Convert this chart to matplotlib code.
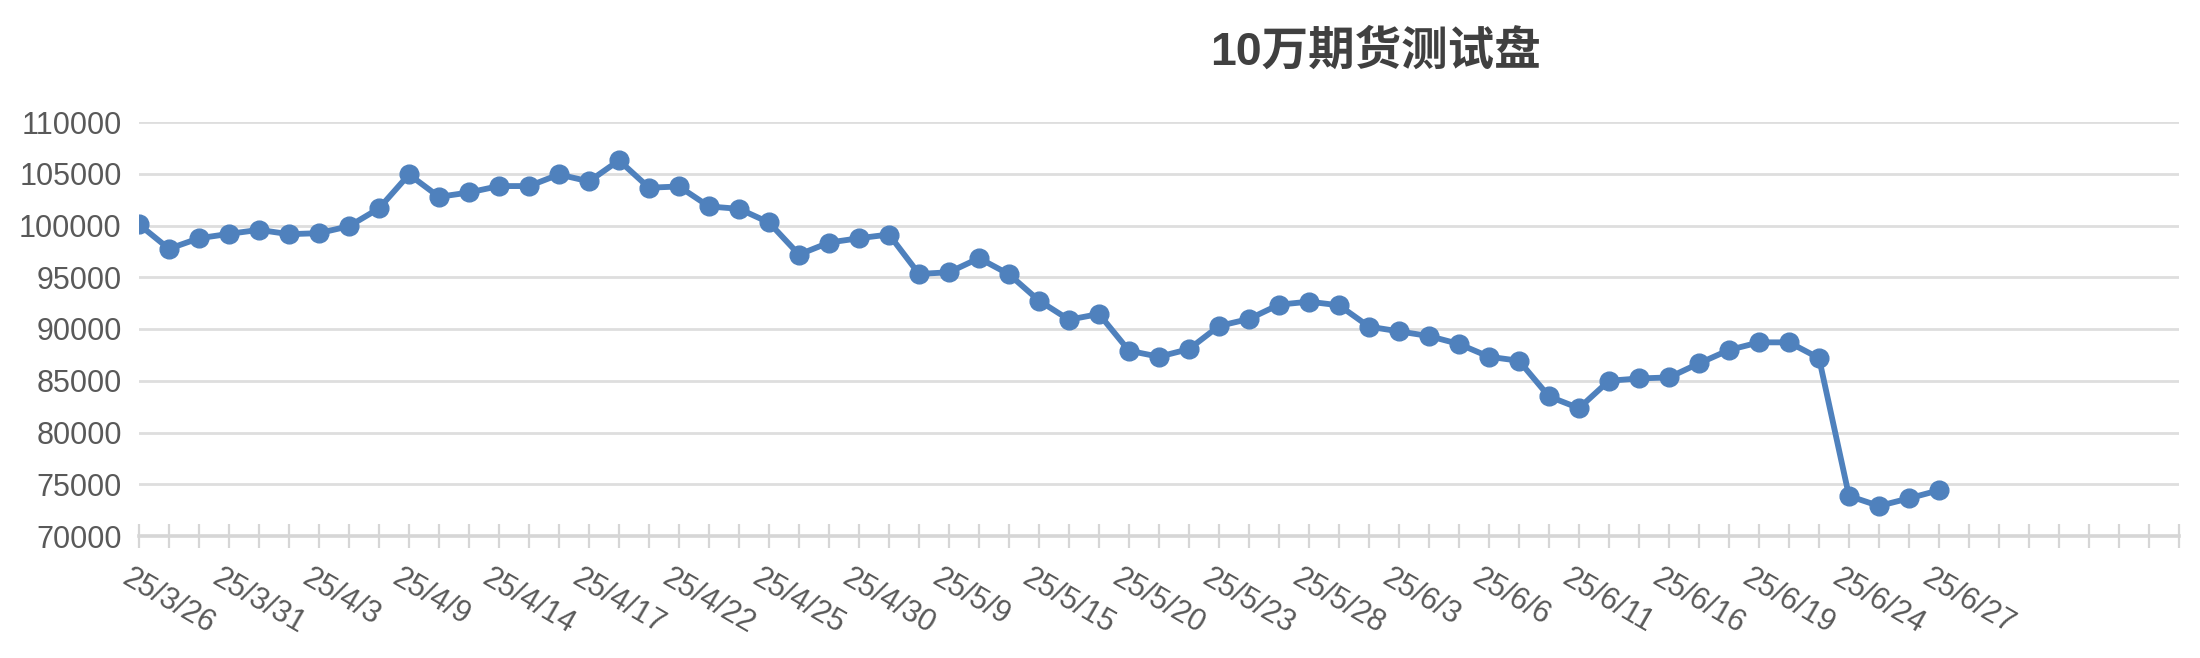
import matplotlib
matplotlib.use("Agg")
import matplotlib.pyplot as plt
import matplotlib.transforms as mtransforms

title = "10万期货测试盘"

# every third trading day is labelled on the axis
date_labels = ["25/3/26", "25/3/31", "25/4/3", "25/4/9", "25/4/14", "25/4/17",
               "25/4/22", "25/4/25", "25/4/30", "25/5/9", "25/5/15", "25/5/20",
               "25/5/23", "25/5/28", "25/6/3", "25/6/6", "25/6/11", "25/6/16",
               "25/6/19", "25/6/24", "25/6/27"]

values = [100100, 97750, 98770, 99190, 99580, 99160, 99260, 99930, 101650, 104930,
          102770, 103190, 103810, 103810, 104930, 104260, 106290, 103650, 103770, 101840,
          101610, 100290, 97190, 98350, 98770, 99130, 95320, 95480, 96840, 95290,
          92740, 90900, 91450, 87900, 87320, 88060, 90290, 90970, 92350, 92640,
          92290, 90230, 89770, 89320, 88550, 87320, 86930, 83480, 82350, 85000,
          85220, 85320, 86680, 87970, 88710, 88710, 87190, 73870, 72900, 73640,
          74420]

n_slots = 69          # category slots on the axis, data fills the first 61
label_every = 3

plt.rcParams['font.family'] = ['Liberation Sans', 'Noto Sans CJK SC', 'DejaVu Sans']

W, H = 2200, 658
fig = plt.figure(figsize=(W / 100, H / 100), dpi=100)
ax = fig.add_axes([139 / W, 1 - 536 / H, (2179 - 139) / W, (536 - 122) / H])

x = list(range(len(values)))
ax.plot(x, values, color='#4f81bd', lw=4.2, marker='o', ms=13.5,
        solid_joinstyle='round', zorder=3)

ax.set_xlim(0, n_slots - 1)
ax.set_ylim(70000, 110000)
ax.set_yticks(range(70000, 110001, 5000))
ax.set_axisbelow(True)
ax.grid(axis='y', color='#dedede', lw=2)

for s in ['top', 'right', 'left']:
    ax.spines[s].set_visible(False)
ax.spines['bottom'].set_color('#d6d6d6')
ax.spines['bottom'].set_linewidth(2.6)

ax.tick_params(axis='y', length=0, pad=12.5, labelsize=22, labelcolor='#595959')

labels = []
for i in range(n_slots):
    k = i // label_every
    if i % label_every == 0 and k < len(date_labels):
        labels.append(date_labels[k])
    else:
        labels.append("")
ax.set_xticks(range(n_slots), labels)
ax.tick_params(axis='x', direction='inout', length=17.3, width=1.6, color='#d6d6d6',
               pad=10.8, labelsize=22, labelcolor='#595959')

offset = mtransforms.ScaledTranslation(-7 / 100, 0, fig.dpi_scale_trans)
for lab in ax.get_xticklabels():
    lab.set_rotation(-30)
    lab.set_ha('left')
    lab.set_va('top')
    lab.set_rotation_mode('anchor')
    lab.set_transform(lab.get_transform() + offset)

fig.text(1375 / W, 1 - 52 / H, title, ha='center', va='center', fontsize=33.5,
         fontweight='bold', color='#404040')

fig.savefig("out.png", dpi=100)
